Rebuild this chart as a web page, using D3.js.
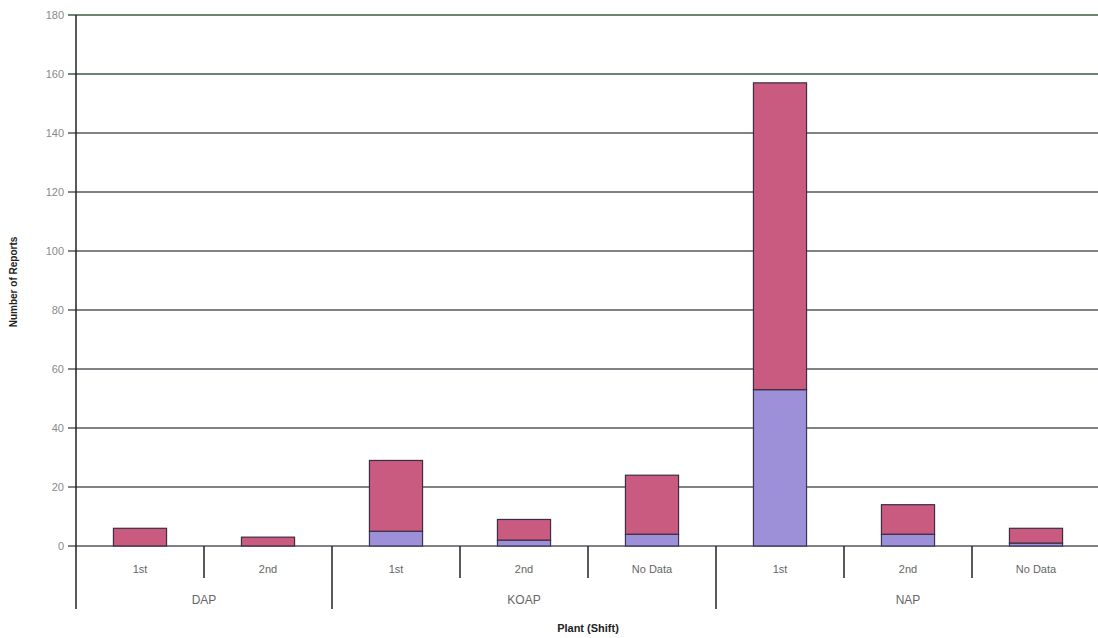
<!DOCTYPE html>
<html>
<head>
<meta charset="utf-8">
<script src="https://cdn.jsdelivr.net/npm/d3@7"></script>
<style>
  html, body { margin: 0; padding: 0; background: #fff; }
  svg { display: block; font-family: "Liberation Sans", Arial, sans-serif; }
</style>
</head>
<body>
<svg id="chart" width="1098" height="638"></svg>
<script>
// Plants and their shifts, in drawing order
const plants = ["DAP", "KOAP", "NAP"];
const shifts = ["1st", "2nd", "1st", "2nd", "No Data", "1st", "2nd", "No Data"];
const shiftPlant = ["DAP", "DAP", "KOAP", "KOAP", "KOAP", "NAP", "NAP", "NAP"];

// Stacked report counts per plant/shift
const lowerSeries = [0, 0, 5, 2, 4, 53, 4, 1];     // lavender segment
const upperSeries = [6, 3, 24, 7, 20, 104, 10, 5]; // rose segment

const yTicks = [0, 20, 40, 60, 80, 100, 120, 140, 160, 180];

(function draw() {
  const svg = d3.select("#chart");
  const plotLeft = 76, plotRight = 1100, plotTop = 15, plotBase = 546;

  const keys = shifts.map((s, i) => shiftPlant[i] + "|" + s + "|" + i);
  const x = d3.scaleBand().domain(keys).range([plotLeft, plotRight])
    .paddingInner(0.585).paddingOuter(0.2925);
  const step = x.step();
  const y = d3.scaleLinear().domain([0, 180]).range([plotBase, plotTop]);

  // Horizontal gridlines
  const gridColor = v => (v >= 160 ? "#3d5a45" : "#555a60");
  svg.append("g").selectAll("line").data(yTicks).join("line")
    .attr("x1", plotLeft - 8).attr("x2", 1098)
    .attr("y1", d => y(d)).attr("y2", d => y(d))
    .attr("stroke", gridColor).attr("stroke-width", 1.4);

  // Y tick labels
  svg.append("g").selectAll("text").data(yTicks).join("text")
    .attr("x", plotLeft - 12).attr("y", d => y(d) + 4)
    .attr("text-anchor", "end").attr("font-size", 11).attr("fill", "#8a8a8a")
    .text(d => d);

  // Stacked bars
  const data = keys.map((k, i) => ({ k, lo: lowerSeries[i], hi: upperSeries[i] }));
  const bars = svg.append("g");
  bars.selectAll("rect.lo").data(data.filter(d => d.lo > 0)).join("rect")
    .attr("class", "lo")
    .attr("x", d => x(d.k)).attr("width", x.bandwidth())
    .attr("y", d => y(d.lo)).attr("height", d => y(0) - y(d.lo))
    .attr("fill", "#9d8fd8").attr("stroke", "#3a3550").attr("stroke-width", 1.2);
  bars.selectAll("rect.hi").data(data).join("rect")
    .attr("class", "hi")
    .attr("x", d => x(d.k)).attr("width", x.bandwidth())
    .attr("y", d => y(d.lo + d.hi)).attr("height", d => y(d.lo) - y(d.lo + d.hi))
    .attr("fill", "#c95a80").attr("stroke", "#3a2e40").attr("stroke-width", 1.2);

  // Vertical axis line
  svg.append("line")
    .attr("x1", plotLeft).attr("x2", plotLeft).attr("y1", plotTop).attr("y2", 609)
    .attr("stroke", "#222").attr("stroke-width", 1.5);

  // Category separators: short between shifts, long between plants
  const groupStarts = new Set([2, 5]);
  for (let i = 1; i < keys.length; i++) {
    const xs = plotLeft + i * step;
    svg.append("line")
      .attr("x1", xs).attr("x2", xs).attr("y1", plotBase)
      .attr("y2", groupStarts.has(i) ? 609 : 578)
      .attr("stroke", "#222").attr("stroke-width", 1.5);
  }

  // Shift labels
  svg.append("g").selectAll("text").data(keys).join("text")
    .attr("x", d => x(d) + x.bandwidth() / 2).attr("y", 573)
    .attr("text-anchor", "middle").attr("font-size", 11).attr("fill", "#666")
    .text((d, i) => shifts[i]);

  // Plant labels centered under their groups
  plants.forEach(p => {
    const idx = shiftPlant.map((s, i) => s === p ? i : -1).filter(i => i >= 0);
    const cx = (x(keys[idx[0]]) + x(keys[idx[idx.length - 1]]) + x.bandwidth()) / 2;
    svg.append("text")
      .attr("x", cx).attr("y", 604)
      .attr("text-anchor", "middle").attr("font-size", 12).attr("fill", "#666")
      .text(p);
  });

  // Axis titles
  svg.append("text")
    .attr("x", (plotLeft + plotRight) / 2).attr("y", 632)
    .attr("text-anchor", "middle").attr("font-size", 11).attr("font-weight", "bold")
    .attr("fill", "#222").text("Plant (Shift)");
  svg.append("text")
    .attr("transform", "translate(17,282) rotate(-90)")
    .attr("text-anchor", "middle").attr("font-size", 10).attr("font-weight", "bold")
    .attr("fill", "#222").text("Number of Reports");
})();
</script>
</body>
</html>
